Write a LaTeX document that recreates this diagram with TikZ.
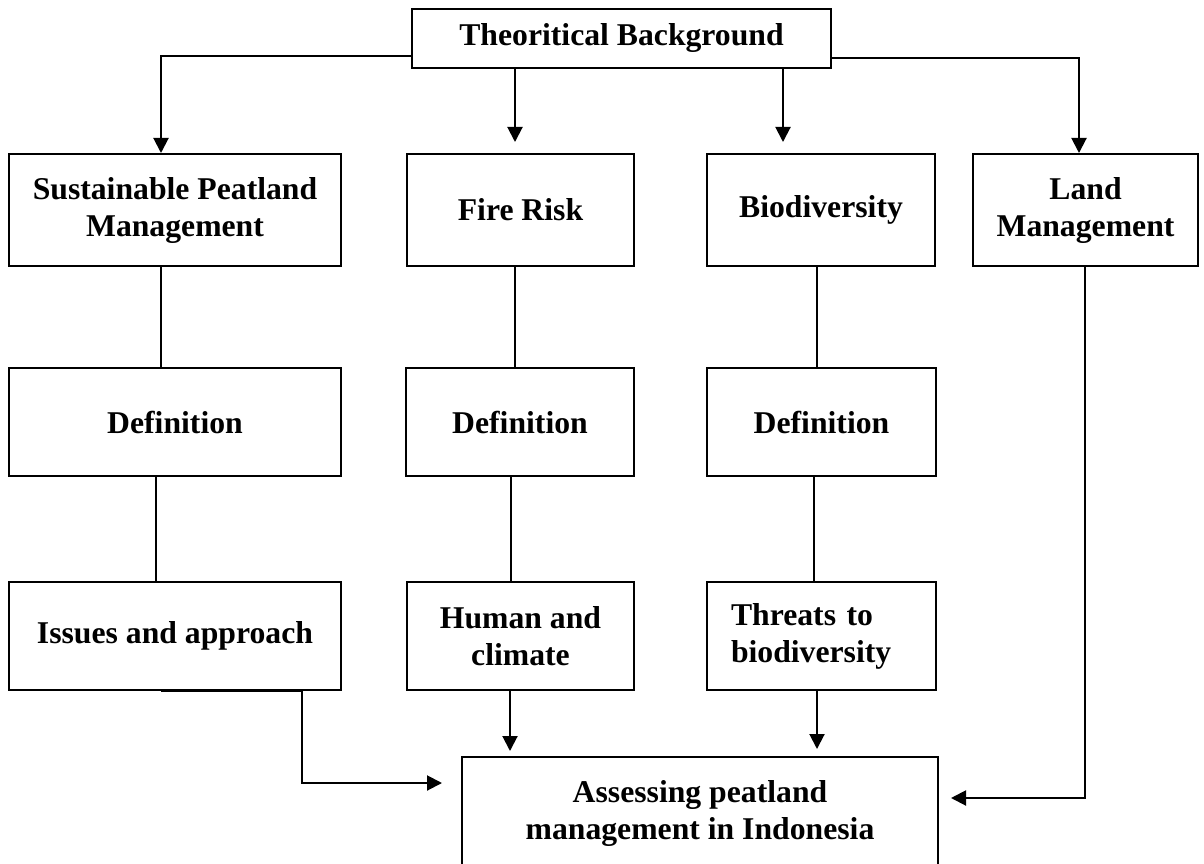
\documentclass[tikz,border=0pt]{standalone}
\usepackage{fontspec}
\setmainfont{Liberation Serif}
\usetikzlibrary{arrows.meta,calc}
\begin{document}
\begin{tikzpicture}[x=1pt,y=-1pt,
  box/.style={draw=black,line width=2pt,rectangle,inner sep=0pt,align=center,
    font=\bfseries\fontsize{31.7}{37}\selectfont},
  conn/.style={draw=black,line width=2pt},
  arr/.style={conn,-{Triangle[length=15pt,width=15pt]}}]
\clip (0,0) rectangle (1204,864);
\fill[white] (0,0) rectangle (1204,864);
% boxes
\node[box,minimum width=419pt,minimum height=59pt] (top) at (621.5,38.5) {Theoritical Background};
\node[box,minimum width=332pt,minimum height=112pt] (spm) at (175,210) {Sustainable Peatland\\Management};
\node[box,minimum width=227pt,minimum height=112pt] (fire) at (520.5,210) {Fire Risk};
\node[box,minimum width=228pt,minimum height=112pt] (bio) at (821,210) {Biodiversity};
\node[box,minimum width=225pt,minimum height=112pt] (land) at (1085.5,210) {Land\\Management};
\node[box,minimum width=332pt,minimum height=108pt] (def1) at (175,422) {Definition};
\node[box,minimum width=228pt,minimum height=108pt] (def2) at (520,422) {Definition};
\node[box,minimum width=229pt,minimum height=108pt] (def3) at (821.5,422) {Definition};
\node[box,minimum width=332pt,minimum height=108pt] (iss) at (175,636) {Issues and approach};
\node[box,minimum width=227pt,minimum height=108pt] (hum) at (520.5,636) {Human and\\climate};
\node[box,minimum width=229pt,minimum height=108pt,text width=181pt,inner xsep=24pt,align=left] (thr) at (821.5,636) {Threats to\\biodiversity};
\node[box,minimum width=476pt,minimum height=112pt] (assess) at (700,813) {Assessing peatland\\management in Indonesia};
% connectors from top
\draw[arr] ($(top.south west)+(0,-13)$) -| ($(spm.north west)+(153,0)$);
\draw[arr] ($(top.south east)+(0,-11)$) -| ($(land.north west)+(107,0)$);
\draw[arr] ($(top.south west)+(104,0)$) -- ($(fire.north west)+(109,-11)$);
\draw[arr] ($(top.south west)+(372,0)$) -- ($(bio.north west)+(77,-11)$);
% column lines
\draw[conn] ($(spm.south west)+(153,0)$) -- ($(def1.north west)+(153,0)$);
\draw[conn] ($(def1.south west)+(148,0)$) -- ($(iss.north west)+(148,0)$);
\draw[conn] ($(fire.south west)+(109,0)$) -- ($(def2.north west)+(110,0)$);
\draw[conn] ($(def2.south west)+(106,0)$) -- ($(hum.north west)+(105,0)$);
\draw[conn] ($(bio.south west)+(111,0)$) -- ($(def3.north west)+(111,0)$);
\draw[conn] ($(def3.south west)+(108,0)$) -- ($(thr.north west)+(108,0)$);
% arrows into the final box
\draw[arr] ($(iss.south west)+(153,0)$) -- ($(iss.south west)+(294,0)$) |- ($(assess.north west)+(-19,27)$);
\draw[arr] ($(hum.south west)+(104,0)$) -- ($(assess.north west)+(49,-5)$);
\draw[arr] ($(thr.south west)+(111,0)$) -- ($(assess.north west)+(356,-7)$);
\draw[arr] ($(land.south west)+(113,0)$) |- ($(assess.north east)+(12,42)$);
\end{tikzpicture}
\end{document}
